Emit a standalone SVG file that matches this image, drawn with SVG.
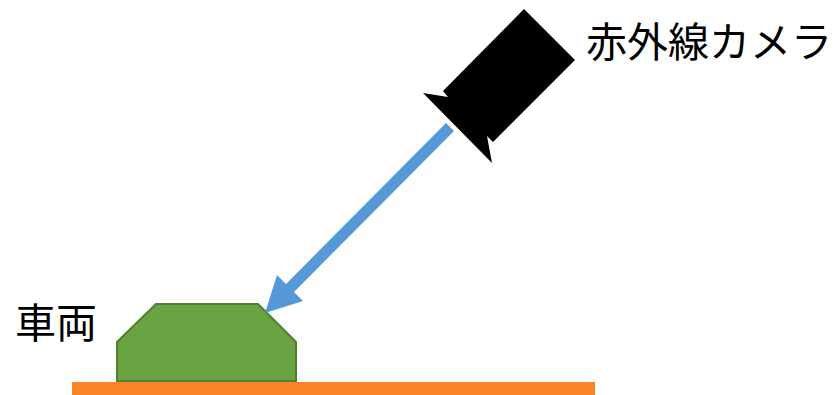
<svg xmlns="http://www.w3.org/2000/svg" width="834" height="395" viewBox="0 0 834 395">
<style>text{font-family:"Noto Sans CJK JP","Liberation Sans",sans-serif;font-size:41px;fill:#000}</style>
<rect width="834" height="395" fill="#fff"/>
<g id="ground"><rect x="72" y="382" width="523" height="13" fill="#fb8429"/></g>
<g id="vehicle"><polygon points="117,342 156,304 258,304 296,342 296,381 117,381" fill="#6aa342" stroke="#4f7f30" stroke-width="2"/><text x="15" y="338">車両</text></g>
<g id="camera"><polygon points="524,9 575,60 493,142 487,136 492,163 423,93 448,97 443,91" fill="#000"/><text x="586" y="57">赤外線カメラ</text></g>
<g id="connectors"><polygon points="446,123 454,131 294,292 303,301 265,313 277,275 286,284" fill="#5599d8"/></g>
</svg>
